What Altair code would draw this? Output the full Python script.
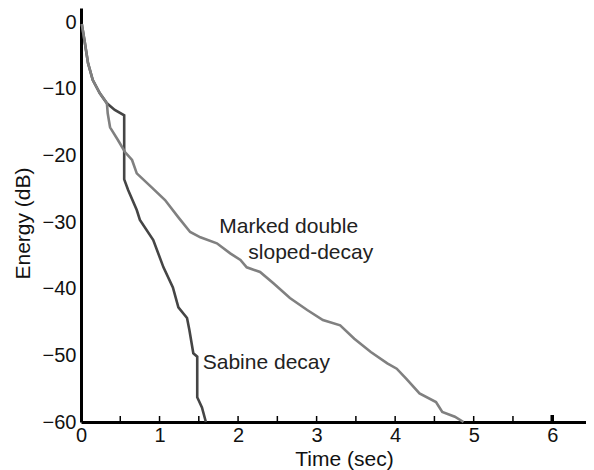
import altair as alt
import pandas as pd

# Sabine decay curve (time in sec, energy in dB)
sabine_t = [0.01, 0.05, 0.09, 0.15, 0.24, 0.33, 0.43, 0.55, 0.55, 0.60, 0.71, 0.75,
            0.92, 1.05, 1.17, 1.24, 1.35, 1.38, 1.43, 1.48, 1.48, 1.54, 1.59]
sabine_db = [-0.3, -3.2, -6.2, -8.7, -10.7, -12.2, -13.2, -14.0, -23.6, -25.2, -28.2, -29.7,
             -32.7, -36.8, -39.8, -42.8, -44.4, -46.2, -49.7, -50.2, -56.3, -57.8, -60.0]

# Marked double sloped-decay curve
double_t = [0.01, 0.05, 0.09, 0.15, 0.24, 0.33, 0.34, 0.37, 0.47, 0.56, 0.65, 0.71,
            0.90, 1.07, 1.24, 1.39, 1.52, 1.73, 1.90, 2.03, 2.11, 2.28, 2.45, 2.66,
            2.88, 3.08, 3.30, 3.48, 3.69, 3.90, 4.02, 4.14, 4.31, 4.52, 4.60, 4.76, 4.87]
double_db = [-0.3, -3.2, -6.2, -8.7, -10.7, -12.2, -13.7, -15.8, -17.7, -19.5, -20.7, -22.7,
             -24.8, -26.7, -29.3, -31.5, -32.3, -33.2, -34.7, -35.7, -36.8, -37.5, -39.2, -41.4,
             -43.2, -44.7, -45.5, -47.5, -49.5, -51.2, -52.0, -53.5, -55.7, -57.0, -58.5, -59.2, -60.0]

x_label_values = [0, 1, 2, 3, 4, 5, 6]
x_minor_ticks = [0.5, 1, 1.5, 2, 2.5, 3, 3.5, 4, 4.5, 5, 5.5]
x_major_tick = [6]
y_label_values = [0, -10, -20, -30, -40, -50, -60]

note_text = ["Marked double", "sloped-decay", "Sabine decay"]
note_t = [1.76, 2.13, 1.55]
note_db = [-30.8, -34.7, -51.2]

FONT = "Liberation Sans"
W, H = 505, 414
X_DOMAIN = [0, 6.43]
Y_DOMAIN = [-60, 2.1]

rows = []
for i, (t, d) in enumerate(zip(sabine_t, sabine_db)):
    rows.append({"series": "Sabine decay", "t": t, "db": d, "i": i})
for i, (t, d) in enumerate(zip(double_t, double_db)):
    rows.append({"series": "Marked double sloped-decay", "t": t, "db": d, "i": i})
df = pd.DataFrame(rows)

xscale = alt.Scale(domain=X_DOMAIN, nice=False, zero=False)
yscale = alt.Scale(domain=Y_DOMAIN, nice=False, zero=False)

x_axis = alt.Axis(values=x_label_values, format="d", title="Time (sec)", tickSize=0, grid=False,
                  domainColor="black", domainWidth=3, labelFont=FONT, labelFontSize=20,
                  labelColor="#111", labelPadding=3, labelFlush=False, labelOverlap=False,
                  titleFont=FONT, titleFontSize=21, titleFontWeight="normal",
                  titleColor="#111", titleX=263, titleY=43, titleBaseline="alphabetic")
y_axis = alt.Axis(values=y_label_values, format="d", title="Energy (dB)", tickSize=0, grid=False,
                  domainColor="black", domainWidth=3, labelFont=FONT, labelFontSize=20,
                  labelColor="#111", labelPadding=5, labelOverlap=False,
                  titleFont=FONT, titleFontSize=21, titleFontWeight="normal",
                  titleColor="#111", titlePadding=9, titleY=215)

lines = alt.Chart(df).mark_line(strokeWidth=2.6, interpolate="linear").encode(
    x=alt.X("t:Q", scale=xscale, axis=x_axis),
    y=alt.Y("db:Q", scale=yscale, axis=y_axis),
    color=alt.Color("series:N", scale=alt.Scale(
        domain=["Sabine decay", "Marked double sloped-decay"],
        range=["#454545", "#808080"]), legend=None),
    detail="series:N",
    order="i:Q",
)

ticks = alt.Chart(pd.DataFrame({"t": x_minor_ticks})).mark_rule(
    color="black", strokeWidth=1.5).encode(
    x=alt.X("t:Q", scale=xscale), y=alt.value(H), y2=alt.value(H - 6))

big_tick = alt.Chart(pd.DataFrame({"t": x_major_tick})).mark_rule(
    color="black", strokeWidth=3.5).encode(
    x=alt.X("t:Q", scale=xscale), y=alt.value(H), y2=alt.value(H - 7))

notes = alt.Chart(pd.DataFrame({"text": note_text, "t": note_t, "db": note_db})).mark_text(
    align="left", baseline="middle", font=FONT, fontSize=21, color="#222").encode(
    x=alt.X("t:Q", scale=xscale), y=alt.Y("db:Q", scale=yscale), text="text:N")

chart = alt.layer(lines, ticks, big_tick, notes).properties(
    width=W, height=H,
    autosize=alt.AutoSizeParams(type="none"),
    padding={"left": 73, "top": 0, "right": 0, "bottom": 48},
    background="white",
).configure_view(stroke=None)

chart.save("out.html", embed_options={"renderer": "svg", "actions": False})
